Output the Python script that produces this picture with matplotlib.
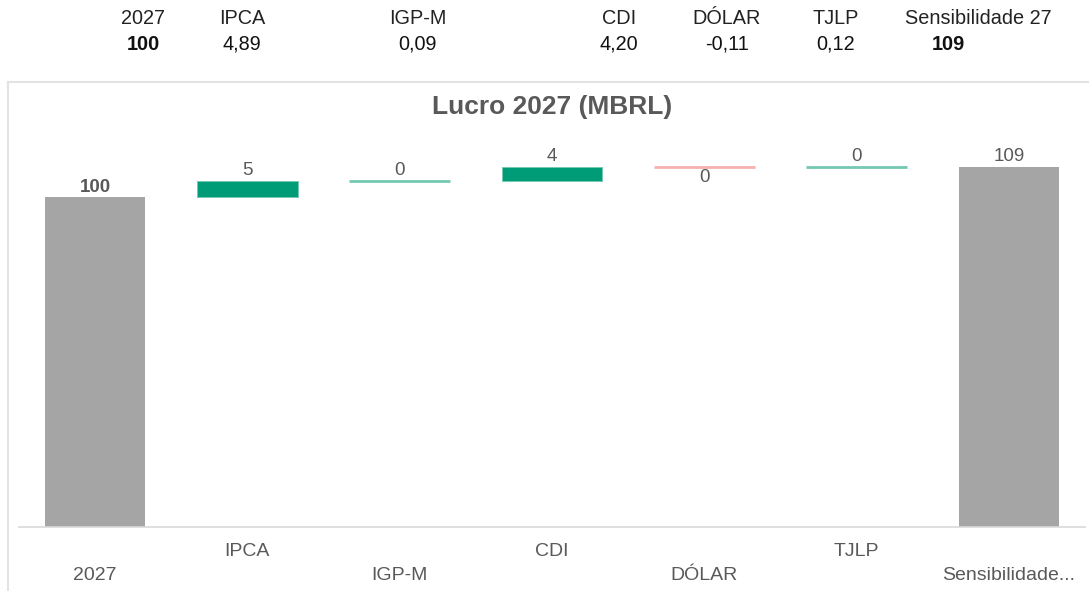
import matplotlib.pyplot as plt
import numpy as np

plt.rcParams['font.family'] = ['Liberation Sans', 'DejaVu Sans']

# data
categories = ['2027', 'IPCA', 'IGP-M', 'CDI', 'DÓLAR', 'TJLP', 'Sensibilidade 27']
tick_labels = ['2027', 'IPCA', 'IGP-M', 'CDI', 'DÓLAR', 'TJLP', 'Sensibilidade...']
base_value = 100.0
deltas = [4.89, 0.09, 4.20, -0.11, 0.12]
header_values = ['100', '4,89', '0,09', '4,20', '-0,11', '0,12', '109']

W, H = 1089, 593
fig = plt.figure(figsize=(W / 100, H / 100), dpi=100)
fig.patch.set_facecolor('white')

def px(x, y):
    return x / W, 1 - y / H

# header table
head_x = [143, 242, 418, 619, 727, 836, 978]
val_x = [143, 242, 418, 619, 727, 836, 948]
for i, name in enumerate(categories):
    fig.text(*px(head_x[i], 18), name, ha='center', va='center', fontsize=14.3, color='#222222')
    bold = i in (0, len(categories) - 1)
    fig.text(*px(val_x[i], 44), header_values[i], ha='center', va='center', fontsize=14.3,
             color='#111111', fontweight='bold' if bold else 'normal')

# chart frame (left + top edge visible)
fig.add_artist(plt.Line2D([8 / W, 8 / W], [1 - 590 / H, 1 - 82 / H], color='#E3E3E3', lw=1.5,
                          transform=fig.transFigure))
fig.add_artist(plt.Line2D([8 / W, 1], [1 - 82 / H, 1 - 82 / H], color='#E3E3E3', lw=1.5,
                          transform=fig.transFigure))

fig.text(*px(552, 107), 'Lucro 2027 (MBRL)', ha='center', va='center', fontsize=19,
         fontweight='bold', color='#595959')

# axes
y_top = 122
left, right, bottom = 19, 1085, 527
top = bottom - y_top * 3.3
ax = fig.add_axes([left / W, 1 - bottom / H, (right - left) / W, (bottom - top) / H])
ax.set_xlim(-0.5, 6.5)
ax.set_ylim(0, y_top)
for s in ['top', 'right', 'left']:
    ax.spines[s].set_visible(False)
ax.spines['bottom'].set_color('#D9D9D9')
ax.spines['bottom'].set_linewidth(1.2)
ax.set_yticks([])
ax.set_xticks([])

grey = '#A5A5A5'
green = '#009B77'
green_light = '#74C9B3'
red = '#E8908F'
red_light = '#F7B0B0'
label_col = '#595959'
bw = 0.66
fs = 13.5

x = np.arange(len(categories))
ax.bar(x[0], base_value, width=bw, color=grey)
ax.text(x[0], base_value + 0.4, '100', ha='center', va='bottom', fontsize=fs, color=label_col,
        fontweight='bold')

running = base_value
for i, d in enumerate(deltas):
    xi = x[i + 1]
    lw = 2.0 if abs(d) < 1 else 0.7
    if d >= 0:
        ax.bar(xi, d, bottom=running, width=bw, color=green_light if abs(d) < 1 else green,
               edgecolor=green_light, linewidth=lw)
        ax.text(xi, running + d + 0.5, f'{d:.0f}', ha='center', va='bottom', fontsize=fs,
                color=label_col)
    else:
        ax.bar(xi, d, bottom=running, width=bw, color=red_light, edgecolor=red_light, linewidth=lw)
        ax.text(xi, running + d - 0.5, f'{abs(d):.0f}', ha='center', va='top', fontsize=fs,
                color=label_col)
    running += d

total = running
ax.bar(x[-1], total, width=bw, color=grey)
ax.text(x[-1], total + 0.4, f'{total:.0f}', ha='center', va='bottom', fontsize=fs, color=label_col)

# staggered category labels
for i, lab in enumerate(tick_labels):
    yy = 576 if i % 2 == 0 else 551
    fig.text(*px(left + (i + 0.5) * (right - left) / 7, yy), lab, ha='center', va='center',
             fontsize=14, color=label_col)

fig.savefig('out.png', dpi=100)
